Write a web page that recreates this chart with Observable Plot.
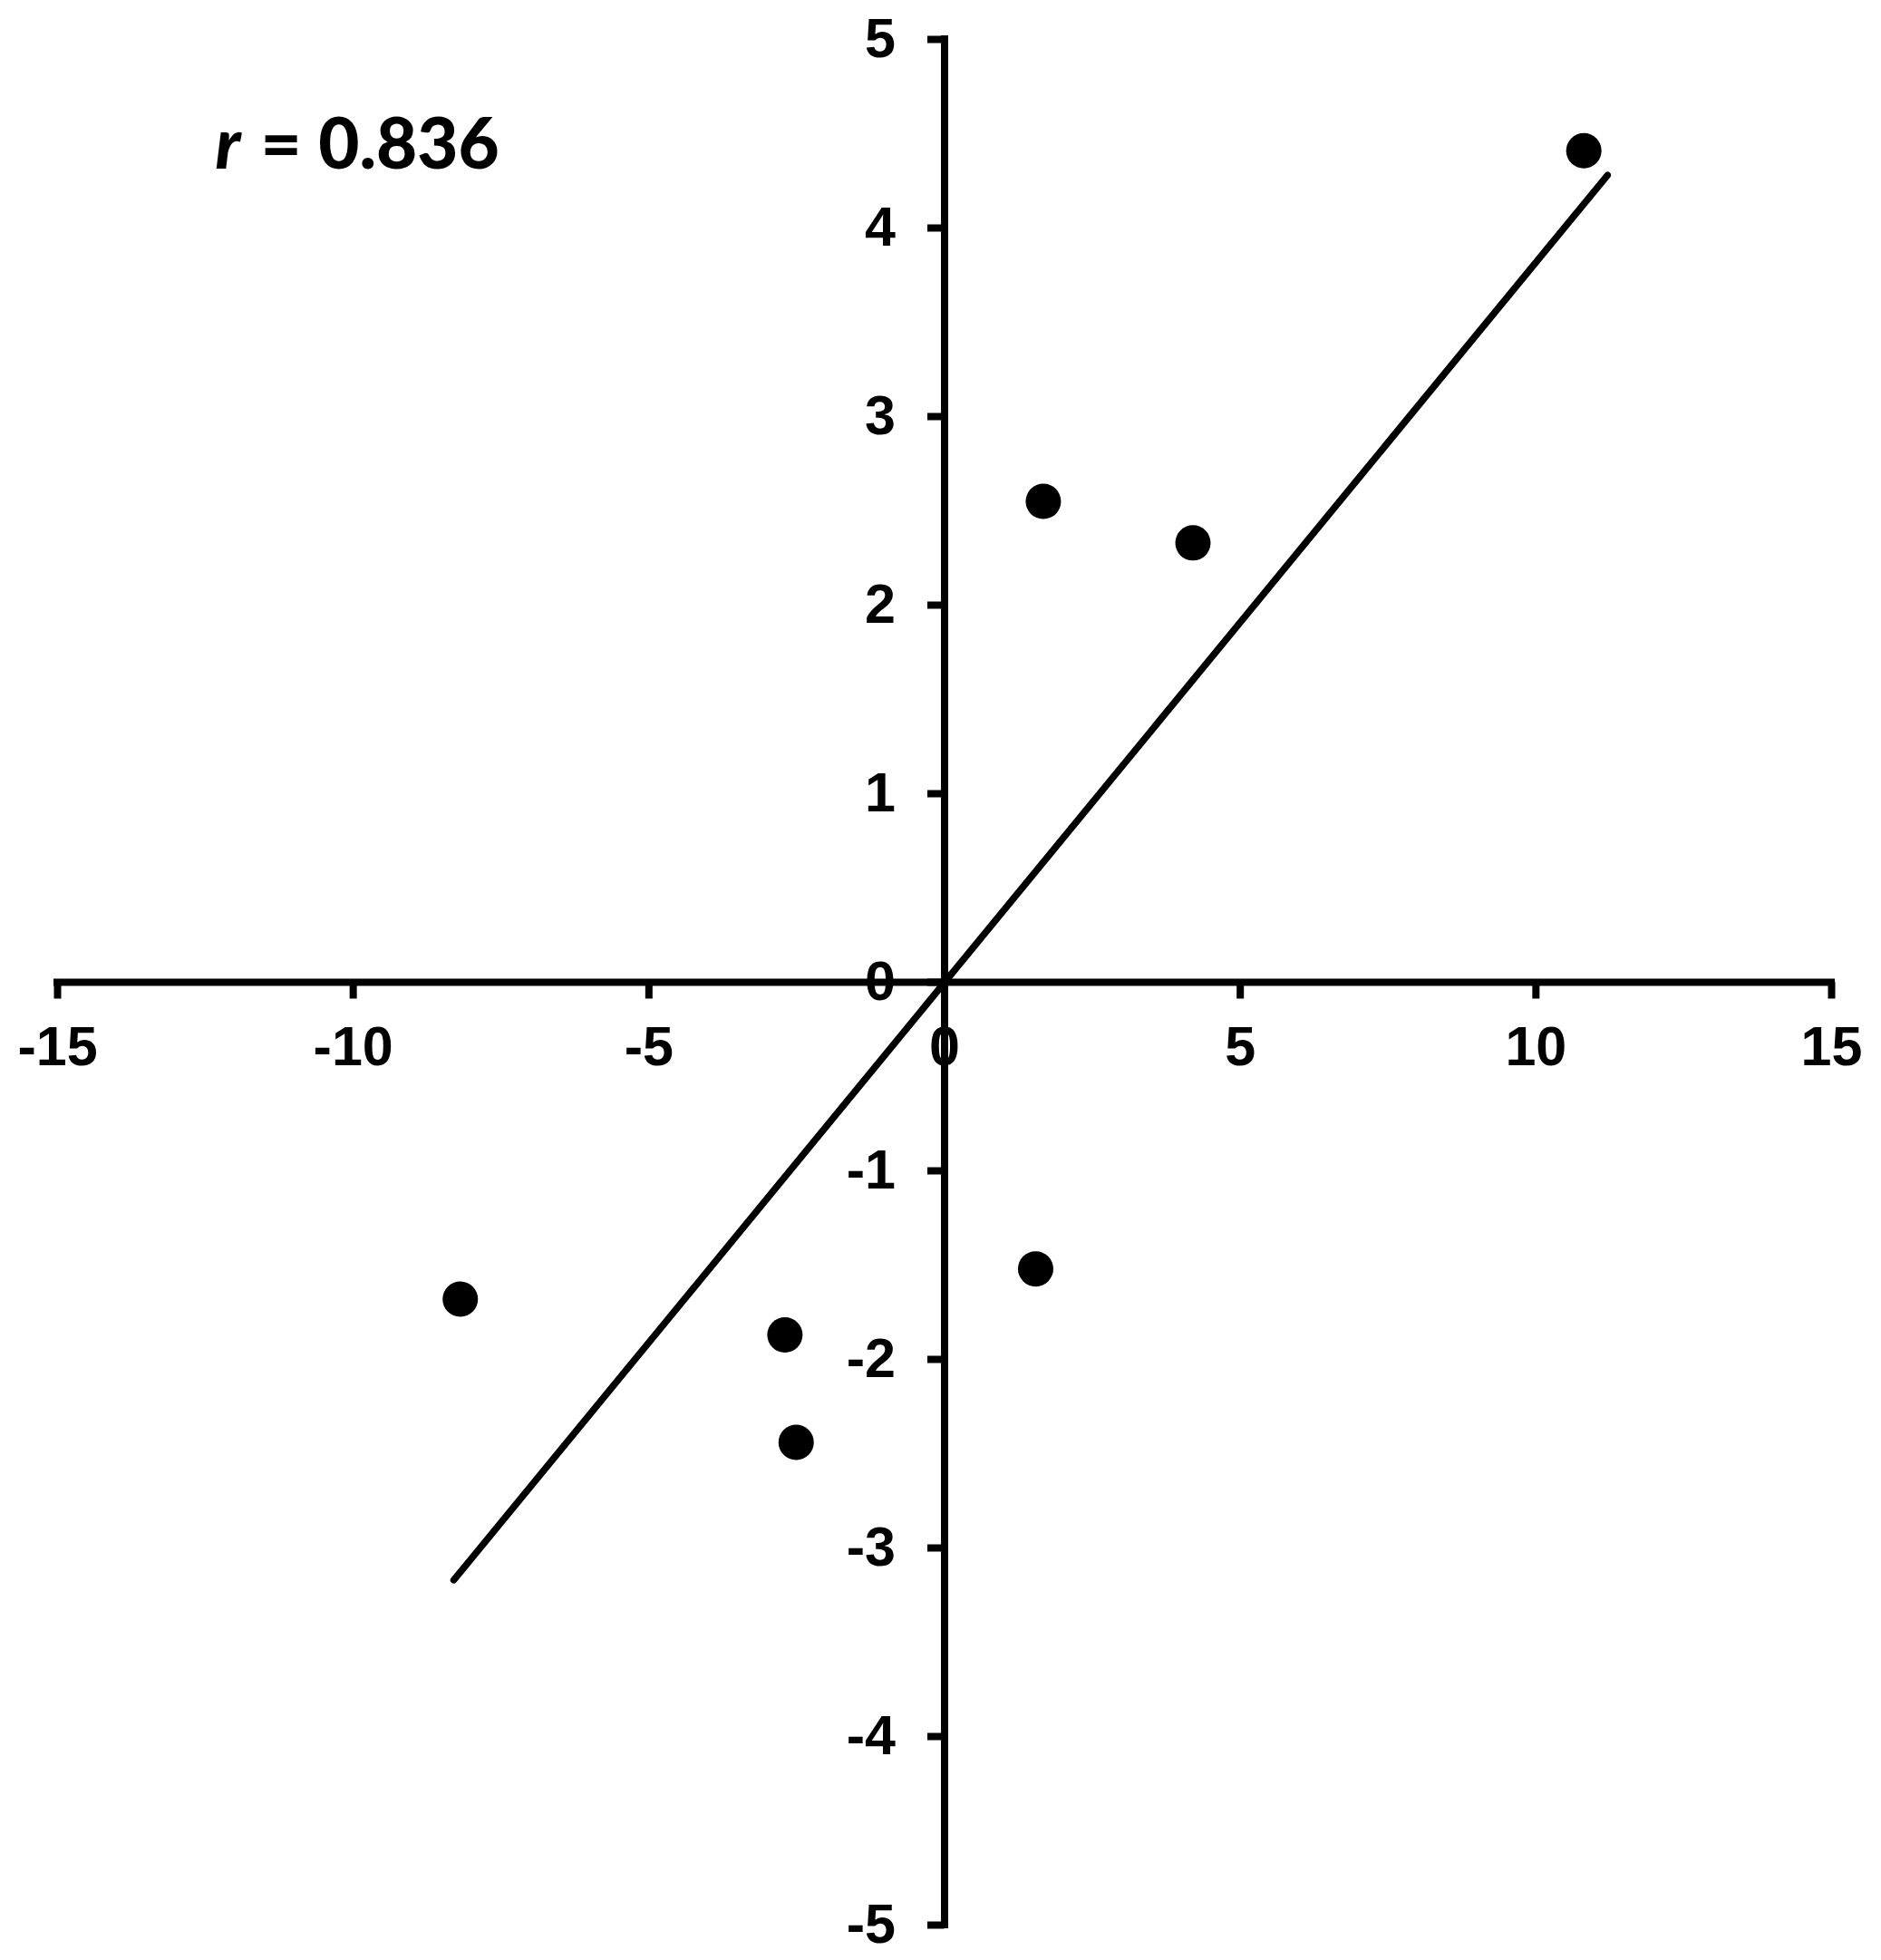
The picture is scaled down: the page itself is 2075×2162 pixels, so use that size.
<!DOCTYPE html>
<html>
<head>
<meta charset="utf-8">
<script src="https://cdn.jsdelivr.net/npm/d3@7"></script>
<script src="https://cdn.jsdelivr.net/npm/@observablehq/plot@0.6"></script>
<style>
  html, body { margin: 0; padding: 0; background: #ffffff; }
  #chart svg { display: block; }
</style>
</head>
<body>
<div id="chart"></div>
<script>
const xTicks = [-15, -10, -5, 0, 5, 10, 15];
const yTicks = [-5, -4, -3, -2, -1, 0, 1, 2, 3, 4, 5];
const pointX = [10.81, 1.67, 4.20, 1.54, -8.19, -2.70, -2.51];
const pointY = [4.41, 2.55, 2.33, -1.52, -1.68, -1.87, -2.44];
const fitX = [-8.30, 11.21];
const fitY = [-3.17, 4.28];
const rSymbol = "r";
const rValue = "= 0.836";

const points = pointX.map((x, i) => ({x, y: pointY[i]}));
const fit = fitX.map((x, i) => ({x, y: fitY[i]}));

const chart = Plot.plot({
  width: 2075,
  height: 2162,
  marginLeft: 63,
  marginRight: 55,
  marginTop: 43,
  marginBottom: 39,
  x: {domain: [-15, 15], axis: null},
  y: {domain: [-5, 5], axis: null},
  style: {background: "#ffffff", fontFamily: "'Liberation Sans', Arial, sans-serif"},
  marks: [
    Plot.ruleY([0], {x1: -15, x2: 15, y: 0, stroke: "#000", strokeWidth: 8, strokeLinecap: "square"}),
    Plot.ruleX([0], {y1: -5, y2: 5, x: 0, stroke: "#000", strokeWidth: 8, strokeLinecap: "square"}),
    Plot.ruleX(xTicks, {x: d => d, y1: 0, y2: 0, insetTop: 0, insetBottom: -18.5, stroke: "#000", strokeWidth: 8}),
    Plot.ruleY(yTicks, {y: d => d, x1: 0, x2: 0, insetLeft: -18.5, insetRight: 0, stroke: "#000", strokeWidth: 8}),
    Plot.text(xTicks, {x: d => d, y: 0, text: d => String(d), dy: 72, fontSize: 61, fontWeight: "bold", fill: "#000", textAnchor: "middle"}),
    Plot.text(yTicks, {x: 0, y: d => d, text: d => String(d), dx: -54, fontSize: 61, fontWeight: "bold", fill: "#000", textAnchor: "end"}),
    Plot.line(fit, {x: "x", y: "y", stroke: "#000", strokeWidth: 7.5, strokeLinecap: "round"}),
    Plot.dot(points, {x: "x", y: "y", r: 19.5, fill: "#000", stroke: null}),
    Plot.text([rSymbol], {frameAnchor: "top-left", text: d => d, dx: 174, dy: 142, textAnchor: "start", lineAnchor: "bottom", fontSize: 78, fontWeight: 900, fontStyle: "italic", fontFamily: "Lato, 'Open Sans', sans-serif", fill: "#000"}),
    Plot.text([rValue], {frameAnchor: "top-left", text: d => d, dx: 224, dy: 142, textAnchor: "start", lineAnchor: "bottom", fontSize: 78, fontWeight: 900, fontFamily: "Lato, 'Open Sans', sans-serif", fill: "#000"})
  ]
});
document.getElementById("chart").appendChild(chart);
</script>
</body>
</html>
